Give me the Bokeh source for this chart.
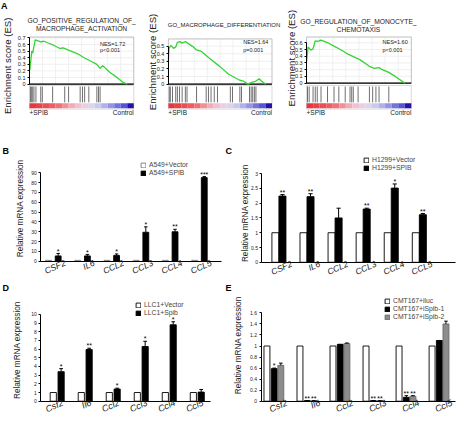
import math
from bokeh.plotting import figure
from bokeh.layouts import row, column
from bokeh.models import Range1d, FixedTicker, Label, Legend, LegendItem
from bokeh.core.properties import value
from bokeh.embed import file_html
from bokeh.resources import INLINE

FONT = "Liberation Sans"

# ---------------- data ----------------
# Panel A: GSEA running enrichment scores (rank fraction, ES) and hit positions
a1_title = ["GO_POSITIVE_REGULATION_OF_", "MACROPHAGE_ACTIVATION"]
a1_rank = [0.003, 0.022, 0.031, 0.055, 0.108, 0.138, 0.185, 0.231, 0.292, 0.323, 0.369,
           0.462, 0.523, 0.585, 0.646, 0.677, 0.702, 0.723, 0.769, 0.831, 0.892, 0.938]
a1_es = [0.21, 0.50, 0.47, 0.67, 0.64, 0.65, 0.62, 0.59, 0.54, 0.55, 0.52,
         0.46, 0.40, 0.35, 0.30, 0.24, 0.28, 0.25, 0.18, 0.11, 0.03, 0.0]
a1_hits = [0.009, 0.018, 0.031, 0.043, 0.062, 0.108, 0.123, 0.222, 0.338, 0.375,
           0.486, 0.508, 0.529, 0.569, 0.646, 0.662, 0.677]
a1_stats = ["NES=1.72", "p<0.001"]
a1_yticks = [0, 0.1, 0.2, 0.3, 0.4, 0.5, 0.6, 0.7]
a1_ylabels = ["0", "0.1", "0.2", "0.3", "0.4", "0.5", "0.6", "0.7"]

a2_title = ["GO_MACROPHAGE_DIFFERENTIATION"]
a2_rank = [0.0, 0.006, 0.025, 0.050, 0.071, 0.087, 0.111, 0.133, 0.164, 0.195, 0.241, 0.272,
           0.319, 0.396, 0.489, 0.582, 0.675, 0.721, 0.768, 0.799, 0.845, 0.876, 0.898, 0.938]
a2_es = [0.30, 0.47, 0.51, 0.47, 0.49, 0.55, 0.56, 0.54, 0.56, 0.53, 0.49, 0.45,
         0.43, 0.34, 0.24, 0.13, 0.06, 0.04, 0.0, 0.02, 0.04, 0.07, 0.04, 0.0]
a2_hits = [0.009, 0.019, 0.040, 0.071, 0.087, 0.108, 0.133, 0.164, 0.180, 0.272, 0.365, 0.387,
           0.412, 0.443, 0.474, 0.598, 0.619, 0.690, 0.706, 0.783, 0.799, 0.814, 0.830, 0.845]
a2_stats = ["NES=1.64", "p=0.001"]
a2_yticks = [0, 0.1, 0.2, 0.3, 0.4, 0.5]
a2_ylabels = ["0", "0.1", "0.2", "0.3", "0.4", "0.5"]

a3_title = ["GO_REGULATION_OF_MONOCYTE_", "CHEMOTAXIS"]
a3_rank = [0.0, 0.015, 0.040, 0.062, 0.083, 0.108, 0.138, 0.169, 0.215, 0.262,
           0.323, 0.385, 0.508, 0.600, 0.646, 0.692, 0.723, 0.785, 0.846, 0.938]
a3_es = [0.32, 0.54, 0.49, 0.51, 0.63, 0.62, 0.64, 0.62, 0.59, 0.55,
         0.50, 0.44, 0.35, 0.25, 0.22, 0.23, 0.20, 0.16, 0.10, 0.0]
a3_hits = [0.009, 0.025, 0.062, 0.083, 0.102, 0.138, 0.200, 0.262, 0.308, 0.369,
           0.415, 0.431, 0.446, 0.492, 0.600, 0.631, 0.662, 0.692, 0.785]
a3_stats = ["NES=1.60", "p<0.001"]
a3_yticks = [0, 0.1, 0.2, 0.3, 0.4, 0.5, 0.6]
a3_ylabels = ["0", "0.1", "0.2", "0.3", "0.4", "0.5", "0.6"]

gsea_ends = ["+SPIB", "Control"]

genes_h = ["CSF2", "IL6", "CCL2", "CCL3", "CCL4", "CCL5"]
genes_m = ["Csf2", "Il6", "Ccl2", "Ccl3", "Ccl4", "Ccl5"]

b_vector = [1, 1, 1, 1, 1, 1]
b_spib = [5.5, 5.5, 6.0, 29.5, 30.0, 85.0]
b_spib_err = [2.5, 1.5, 1.5, 5.5, 2.5, 1.0]
b_sig = ["*", "*", "*", "*", "**", "***"]
b_yticks = [0, 10, 20, 30, 40, 50, 60, 70, 80, 90]
b_legend = ["A549+Vector", "A549+SPIB"]

c_vector = [1, 1, 1, 1, 1, 1]
c_spib = [2.24, 2.22, 1.50, 1.80, 2.51, 1.61]
c_spib_err = [0.05, 0.10, 0.33, 0.03, 0.14, 0.04]
c_sig = ["**", "**", "", "**", "*", "**"]
c_yticks = [0, 0.5, 1, 1.5, 2, 2.5, 3]
c_ylabels = ["0", "0.5", "1", "1.5", "2", "2.5", "3"]
c_legend = ["H1299+Vector", "H1299+SPIB"]

d_vector = [1, 1, 1, 1, 1, 1]
d_spib = [3.4, 5.95, 1.4, 6.3, 8.8, 1.05]
d_spib_err = [0.35, 0.15, 0.10, 0.6, 0.35, 0.3]
d_sig = ["*", "**", "*", "*", "*", ""]
d_yticks = [0, 1, 2, 3, 4, 5, 6, 7, 8, 9, 10]
d_legend = ["LLC1+Vector", "LLC1+Spib"]

e_iluc = [1, 1, 1, 1, 1, 1]
e_spib1 = [0.59, 0.01, 1.03, 0.01, 0.07, 1.10]
e_spib1_err = [0.01, 0.0, 0.0, 0.0, 0.03, 0.0]
e_spib2 = [0.65, 0.01, 1.045, 0.01, 0.09, 1.40]
e_spib2_err = [0.04, 0.0, 0.01, 0.0, 0.01, 0.05]
e_sig1 = ["*", "**", "", "**", "**", ""]
e_sig2 = ["", "**", "", "**", "**", ""]
e_yticks = [0, 0.2, 0.4, 0.6, 0.8, 1, 1.2, 1.4, 1.6]
e_ylabels = ["0", "0.2", "0.4", "0.6", "0.8", "1", "1.2", "1.4", "1.6"]
e_legend = ["CMT167+iluc", "CMT167+iSpib-1", "CMT167+iSpib-2"]

YLAB_A = "Enrichment score (ES)"
YLAB_Q = "Relative mRNA expression"

# ---------------- layout helpers ----------------
S = 0.963  # reference-pixel to page-pixel scale


def px(v):
    return int(round(v * S))


def base_fig(box, xo, xppu, yo, yppu):
    gx0, gy0, gx1, gy1 = box

    def X(r):
        return (r - xo) / xppu

    def Y(r):
        return (yo - r) / yppu

    p = figure(width=px(gx1) - px(gx0), height=px(gy1) - px(gy0),
               x_range=Range1d(X(gx0), X(gx1)), y_range=Range1d(Y(gy1), Y(gy0)),
               output_backend="svg", toolbar_location=None, title=None,
               min_border_left=0, min_border_right=0, min_border_top=0, min_border_bottom=0)
    p.outline_line_color = None
    p.xgrid.visible = False
    p.ygrid.visible = False
    p.border_fill_color = "white"
    p.background_fill_color = "white"
    return p, X, Y


def style_yaxis(p, ticks, labels, at, tick_size):
    ax = p.yaxis[0]
    ax.fixed_location = at
    ax.ticker = FixedTicker(ticks=ticks)
    ax.major_label_overrides = dict(zip(ticks, labels))
    ax.bounds = (ticks[0], ticks[-1])
    ax.minor_tick_line_color = None
    ax.major_tick_in = 0
    ax.major_tick_out = 2
    ax.axis_line_color = "black"
    ax.major_tick_line_color = "black"
    ax.major_label_text_font = FONT
    ax.major_label_text_font_size = tick_size
    ax.major_label_text_color = "#222222"
    ax.major_label_standoff = 2


def add_label(p, x, y, text, size, align="left", baseline="middle", style="normal",
              color="#222222", angle=0.0):
    p.add_layout(Label(x=x, y=y, text=text, text_font=FONT, text_font_size=size,
                       text_align=align, text_baseline=baseline, text_font_style=style,
                       text_color=color, angle=angle))


GRAD = ["#e5383d", "#e7444a", "#e95055", "#eb5e63", "#ee7177", "#f18f98", "#f3aab9",
        "#f2c0d2", "#eacfe3", "#dcd3ee", "#cac8ef", "#b2b0ec", "#9593e6", "#7472dd",
        "#5753d3", "#2413a6"]


def gsea(g, title, ranks, es, hits, stats, yticks, ylabels, letter=None):
    axis_x, right_x = g["axis"], g["right"]
    p, X, Y = base_fig(g["box"], axis_x, right_x - axis_x, g["zero"], g["ppu"])
    p.xaxis.visible = False
    top = Y(g["top"])
    # light grid inside ES box
    gx = [0.125 * i for i in range(1, 8)]
    p.segment(x0=gx, y0=[0] * len(gx), x1=gx, y1=[top] * len(gx), line_color="#ececec", line_width=0.8)
    gy = yticks[1:]
    p.segment(x0=[0] * len(gy), y0=gy, x1=[1] * len(gy), y1=gy, line_color="#ececec", line_width=0.8)
    p.quad(left=[0], right=[1], bottom=[0], top=[top], fill_color=None, line_color="#b0b0b0", line_width=0.8)
    p.segment(x0=[0], y0=[0], x1=[1], y1=[0], line_color="black", line_width=1.2)
    p.line(ranks, es, line_color="#35d335", line_width=1.3)
    # hit strip + ranked list gradient
    p.quad(left=[0], right=[1], bottom=[Y(113)], top=[Y(88.5)], fill_color=None,
           line_color="#cfcfcf", line_width=0.8)
    p.segment(x0=hits, y0=[Y(89.5)] * len(hits), x1=hits, y1=[Y(106)] * len(hits),
              line_color="#707070", line_width=1)
    n = len(GRAD)
    p.quad(left=[i / n for i in range(n)], right=[(i + 1) / n for i in range(n)],
           bottom=[Y(112)] * n, top=[Y(107)] * n, fill_color=GRAD, line_color=None)
    # texts
    for line, ty in zip(title, g["title_y"]):
        add_label(p, X(g["title_cx"]), Y(ty), line, g["title_size"], align="center")
    add_label(p, X(g["nes_x"]), Y(g["nes_y"][0]), stats[0], "5.5px")
    add_label(p, X(g["nes_x"]), Y(g["nes_y"][1]), stats[1], "5.5px")
    add_label(p, 0, Y(117), gsea_ends[0], "6.5px", align="left")
    add_label(p, 1, Y(117), gsea_ends[1], "6.5px", align="right")
    if letter:
        add_label(p, X(0.5), Y(0.5), letter, "9px", baseline="top", style="bold", color="black")
    add_label(p, X(g["ylab"][0]), Y(g["ylab"][1]), YLAB_A, "9.6px", align="center",
              angle=math.pi / 2)
    style_yaxis(p, yticks, ylabels, 0, "5.5px")
    return p


def bar_panel(g, genes, series, errs, sigs, offs, width, fills, lines, yticks, ylabels,
              legend_labels, letter, lab_off):
    p, X, Y = base_fig(g["box"], g["xo"], g["xppu"], g["yo"], g["yppu"])
    idx = list(range(len(genes)))
    pad = 2.5 / g["yppu"]
    renderers = []
    for vals, err, sig, off, fc, lc in zip(series, errs, sigs, offs, fills, lines):
        xs = [i + off for i in idx]
        r = p.vbar(x=xs, top=vals, width=width, fill_color=fc, line_color=lc, line_width=0.9)
        renderers.append(r)
        if err is not None:
            tops = [v + e for v, e in zip(vals, err)]
            p.segment(x0=xs, y0=vals, x1=xs, y1=tops, line_color="black", line_width=1)
            cw = width * 0.3
            p.segment(x0=[x - cw for x in xs], y0=tops, x1=[x + cw for x in xs], y1=tops,
                      line_color="black", line_width=1)
        else:
            tops = list(vals)
        if sig is not None:
            p.text(x=xs, y=[t + pad for t in tops], text=sig, text_align="center",
                   text_baseline="middle", text_font=value(FONT), text_font_size="7px",
                   text_color="black")
    ax_l, ax_r = g["xaxis"]
    # x axis drawn at y = 0
    xa = p.xaxis[0]
    xa.fixed_location = 0
    xa.bounds = (X(ax_l), X(ax_r))
    ticks = [i + lab_off for i in idx]
    xa.ticker = FixedTicker(ticks=ticks)
    xa.major_label_overrides = dict(zip(ticks, genes))
    xa.major_label_orientation = 0.42
    xa.major_label_text_font = FONT
    xa.major_label_text_font_size = g["xfont"]
    xa.major_label_text_font_style = "italic"
    xa.major_label_text_color = "#222222"
    xa.major_label_standoff = 1
    xa.major_tick_line_color = None
    xa.major_tick_out = 0
    xa.major_tick_in = 0
    xa.minor_tick_line_color = None
    xa.axis_line_color = "black"
    xa.axis_line_width = 1.2
    style_yaxis(p, yticks, ylabels, X(ax_l), "5px")
    add_label(p, X(g["ylab"][0]), Y(g["ylab"][1]), YLAB_Q, "8.2px", align="center",
              angle=math.pi / 2)
    # legend
    lx, lb = g["legend"]
    gx0, gy0, gx1, gy1 = g["box"]
    leg = Legend(items=[LegendItem(label=t, renderers=[r]) for t, r in zip(legend_labels, renderers)],
                 location=(px(lx) - px(gx0), px(gy1) - px(lb)),
                 padding=0, margin=0, spacing=1, glyph_width=6, glyph_height=6,
                 label_standoff=3, label_height=7, label_text_font=FONT,
                 label_text_font_size="6.8px", border_line_color=None,
                 background_fill_alpha=0)
    p.add_layout(leg)
    add_label(p, X(g["letter"][0]), Y(g["letter"][1]), letter, "9px", baseline="top",
              style="bold", color="black")
    return p


# ---------------- geometry (reference pixels) ----------------
GA1 = dict(box=(0, 0, 146, 128), axis=30, right=138, zero=87, ppu=68.6, top=38, title_cx=84,
           title_y=[21, 29], title_size="6.7px", nes_x=103, nes_y=[45, 52], ylab=(7, 68))
GA2 = dict(box=(146, 0, 294, 128), axis=174, right=282, zero=87, ppu=79, top=40, title_cx=232,
           title_y=[25], title_size="6px", nes_x=252, nes_y=[43, 51], ylab=(157, 64))
GA3 = dict(box=(294, 0, 474, 128), axis=318, right=427, zero=86, ppu=70, top=38, title_cx=372,
           title_y=[22, 30], title_size="6.7px", nes_x=397, nes_y=[43, 51], ylab=(302, 60))

GB = dict(box=(0, 128, 231, 294), xaxis=(42, 230), xo=55, xppu=30.4, yo=271,
          yppu=92 / 90, legend=(145, 183), letter=(2, 151), ylab=(21, 216), xfont="8.6px")
GC = dict(box=(231, 128, 474, 294), xaxis=(272, 473), xo=289.6, xppu=29.16, yo=272,
          yppu=30.67, legend=(377, 178), letter=(234, 151), ylab=(255, 221), xfont="8.6px")
GD = dict(box=(0, 294, 231, 436), xaxis=(42, 218), xo=59, xppu=29.15, yo=416,
          yppu=9.0, legend=(140, 328), letter=(2, 293), ylab=(17.5, 363), xfont="9px")
GE = dict(box=(231, 294, 474, 436), xaxis=(271, 473), xo=284.7, xppu=34.3, yo=416,
          yppu=57.2, legend=(399, 332), letter=(234, 293), ylab=(247.5, 358), xfont="9px")

pa1 = gsea(GA1, a1_title, a1_rank, a1_es, a1_hits, a1_stats, a1_yticks, a1_ylabels, letter="A")
pa2 = gsea(GA2, a2_title, a2_rank, a2_es, a2_hits, a2_stats, a2_yticks, a2_ylabels)
pa3 = gsea(GA3, a3_title, a3_rank, a3_es, a3_hits, a3_stats, a3_yticks, a3_ylabels)

pb = bar_panel(GB, genes_h, [b_vector, b_spib], [None, b_spib_err], [None, b_sig],
               [-0.165, 0.165], 0.2, ["white", "black"], ["#777777", "black"],
               b_yticks, [str(t) for t in b_yticks], b_legend, "B", 0.4)
pc = bar_panel(GC, genes_h, [c_vector, c_spib], [None, c_spib_err], [None, c_sig],
               [-0.125, 0.125], 0.25, ["white", "black"], ["black", "black"],
               c_yticks, c_ylabels, c_legend, "C", 0.45)
pd_ = bar_panel(GD, genes_m, [d_vector, d_spib], [None, d_spib_err], [None, d_sig],
                [-0.14, 0.14], 0.22, ["white", "black"], ["black", "black"],
                d_yticks, [str(t) for t in d_yticks], d_legend, "D", 0.2)
pe = bar_panel(GE, genes_m, [e_iluc, e_spib1, e_spib2], [None, e_spib1_err, e_spib2_err],
               [None, e_sig1, e_sig2], [-0.22, 0.0, 0.2], 0.18,
               ["white", "black", "#8c8c8c"], ["black", "black", "#6a6a6a"],
               e_yticks, e_ylabels, e_legend, "E", 0.38)

layout = column(row(pa1, pa2, pa3), row(pb, pc), row(pd_, pe))
open("out.html", "w").write(file_html(layout, INLINE))
